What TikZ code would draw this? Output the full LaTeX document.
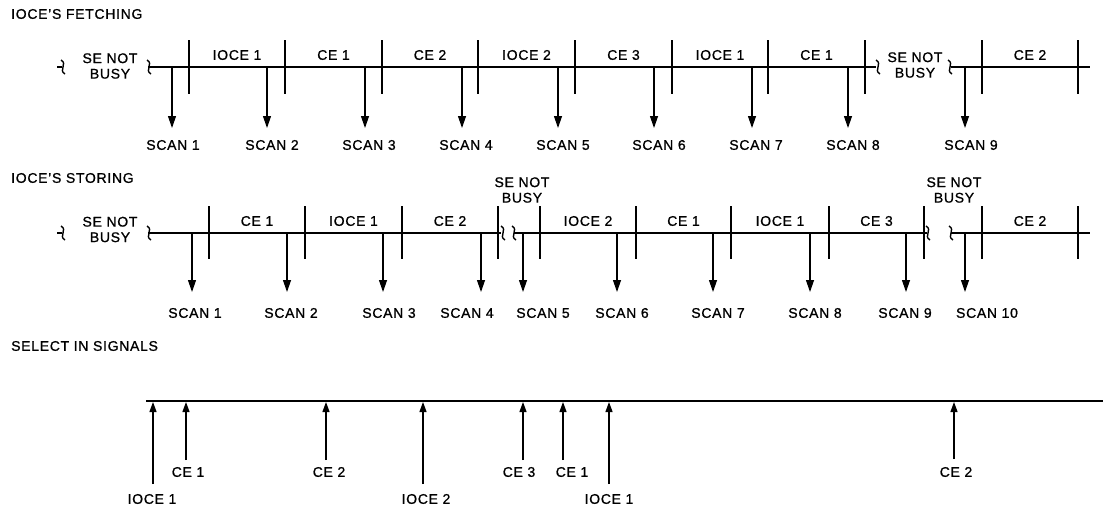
\documentclass[tikz,border=0pt]{standalone}
\usepackage{fontspec}
\setmainfont{Liberation Sans}[LetterSpace=5, FakeBold=0.9]
\usetikzlibrary{arrows.meta}
\begin{document}
\begin{tikzpicture}[x=1pt,y=-1pt,
  every node/.style={font=\fontsize{14}{15.5}\selectfont, inner sep=0pt},
  heading/.style={anchor=west},
  busy/.style={align=center},
  timeline/.style={line width=1.8pt},
  tickmark/.style={line width=1.6pt},
  brk/.style={line width=1.4pt},
  scanarrow/.style={line width=1.2pt,-{Triangle[length=12pt,width=8pt]}},
  selarrow/.style={line width=1.2pt,-{Triangle[length=10pt,width=7pt]}},
  brkpiece/.pic={\draw[brk] (-2,-7) .. controls (5,-3) and (-5,3) .. (2,7);}]
\useasboundingbox (0,0) rectangle (1106,512);

% ---------------- fetching ----------------
\node[heading] (hf) at (11,14) {IOCE'S FETCHING};
\coordinate (f0) at (148,67);
\coordinate (f1) at (876,67);
\coordinate (f2) at (951,67);
\coordinate (f3) at (1090,67);
\draw[timeline] (f0) -- (f1);
\draw[timeline] (f2) -- (f3);
\draw[brk] (57,67) -- (62,67);
\pic at (63,67) {brkpiece};
\pic at (149,67) {brkpiece};
\pic at (878,67) {brkpiece};
\pic at (950,67) {brkpiece};
\node[busy] (fb1) at (110,66) {SE NOT\\BUSY};
\node[busy] (fb2) at (915,65) {SE NOT\\BUSY};
\foreach \x in {189,285,382,478,575,672,768,865,982,1078}
  \draw[tickmark] (\x,40) -- (\x,94);
\foreach \x/\t [count=\i] in {237/IOCE 1,333.5/CE 1,430/CE 2,526.5/IOCE 2,
    623.5/CE 3,720/IOCE 1,816.5/CE 1,1030/CE 2}
  \node (fseg\i) at (\x,55) {\t};
\foreach \x/\lx [count=\i] in {172/173,267/272,365/369,462/466,558/563,
    654/659,752/756,848/853,965/971}{
  \coordinate (fa\i) at (\x,67);
  \coordinate (fe\i) at (\x,128);
  \node (fs\i) at (\lx,145) {SCAN \i};
  \draw[scanarrow] (fa\i) -- (fe\i);
}

% ---------------- storing ----------------
\node[heading] (hs) at (11,178) {IOCE'S STORING};
\coordinate (s0) at (148,233);
\coordinate (s1) at (501,233);
\coordinate (s2) at (514,233);
\coordinate (s3) at (927,233);
\coordinate (s4) at (951,233);
\coordinate (s5) at (1090,233);
\draw[timeline] (s0) -- (s1);
\draw[timeline] (s2) -- (s3);
\draw[timeline] (s4) -- (s5);
\draw[brk] (57,233) -- (62,233);
\pic at (63,233) {brkpiece};
\pic at (149,233) {brkpiece};
\pic at (503,233) {brkpiece};
\pic at (514,233) {brkpiece};
\pic at (928,233) {brkpiece};
\pic at (951,233) {brkpiece};
\node[busy] (sb1) at (110,229.5) {SE NOT\\BUSY};
\node[busy] (sb2) at (522,190) {SE NOT\\BUSY};
\node[busy] (sb3) at (954,190) {SE NOT\\BUSY};
\foreach \x in {209,305,402,498,540,636,731,829,924,982,1078}
  \draw[tickmark] (\x,206) -- (\x,259);
\foreach \x/\t [count=\i] in {257/CE 1,353.5/IOCE 1,450/CE 2,588/IOCE 2,
    683.5/CE 1,780/IOCE 1,876.5/CE 3,1030/CE 2}
  \node (sseg\i) at (\x,221) {\t};
\foreach \x/\lx [count=\i] in {192/195,287/291,383/389,481/467,523/543,
    617/622,713/718,810/815,906/905,965/987}{
  \coordinate (sa\i) at (\x,233);
  \coordinate (se\i) at (\x,292);
  \node (ss\i) at (\lx,313) {SCAN \i};
  \draw[scanarrow] (sa\i) -- (se\i);
}

% ---------------- select in ----------------
\node[heading] (hi) at (11,346) {SELECT IN SIGNALS};
\coordinate (l0) at (146,401);
\coordinate (l1) at (1103,401);
\draw[timeline] (l0) -- (l1);
\foreach \x/\tail/\lx/\ly/\t [count=\i] in {
    153/484/152/499/IOCE 1, 186/460/188/472/CE 1, 326/460/329/472/CE 2,
    423/484/426/499/IOCE 2, 523/460/519/472/CE 3, 563/460/572/472/CE 1,
    609/484/609/499/IOCE 1, 954/459/956/472/CE 2}{
  \coordinate (ia\i) at (\x,\tail);
  \coordinate (ie\i) at (\x,402);
  \node (il\i) at (\lx,\ly) {\t};
  \draw[selarrow] (ia\i) -- (ie\i);
}
\end{tikzpicture}
\end{document}
